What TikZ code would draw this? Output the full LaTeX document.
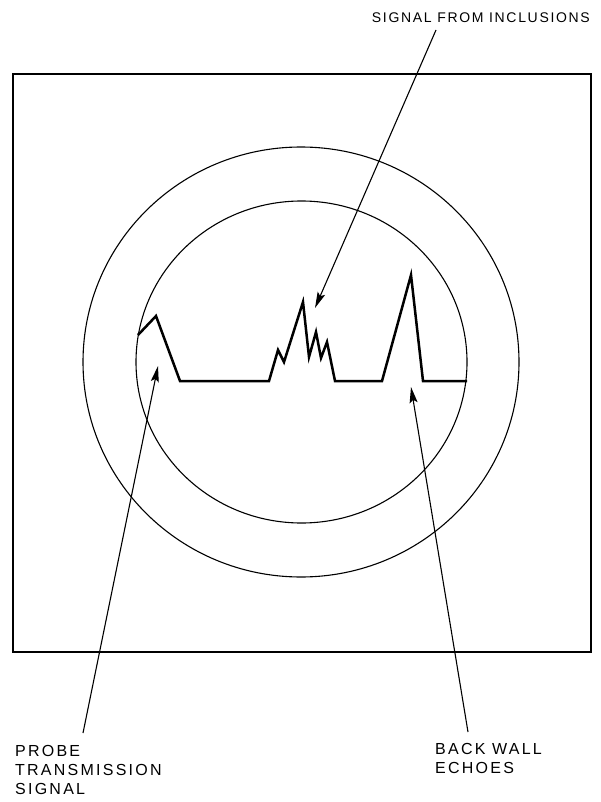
\documentclass[tikz,border=0pt]{standalone}
\usepackage{fontspec}
\setmainfont{Liberation Sans}
\usetikzlibrary{arrows.meta}
\begin{document}
\begin{tikzpicture}[x=1pt,y=-1pt,
  frame/.style={line width=1.8pt},
  ring/.style={line width=1.1pt},
  trace/.style={line width=2.5pt, line join=miter},
  pointer/.style={line width=1.1pt, -{Stealth[length=16pt,width=8pt,inset=3pt]}},
  lbl/.style={inner sep=0pt, align=left, font=\fontsize{16}{19}\selectfont\addfontfeature{LetterSpace=14}},
  toplbl/.style={inner sep=0pt, font=\fontsize{14}{16}\selectfont\addfontfeature{LetterSpace=12}}]
\useasboundingbox (0,0) rectangle (601,802);
\draw[frame] (13,74) rectangle (591,652);
\draw[ring] (301,362) ellipse [x radius=218, y radius=215];
\draw[ring] (301.5,362) ellipse [x radius=165.5, y radius=161];
\draw[trace] (138,335) -- (156,316) -- (180,381) -- (269,381) -- (278,350) -- (284,362)
  -- (303,302) -- (309,357) -- (316,332) -- (321,358) -- (327,342) -- (335,381)
  -- (382,381) -- (411,275) -- (423,381) -- (467,381);
\node[toplbl, anchor=north east] (incl) at (590,13) {SIGNAL FROM INCLUSIONS};
\node[lbl, anchor=north west] (probe) at (15,745) {PROBE\\TRANSMISSION\\SIGNAL};
\node[lbl, anchor=north west] (back) at (435,743) {BACK WALL\\ECHOES};
\coordinate (inclStart) at (436,30);
\coordinate (inclTip) at (315,308);
\coordinate (probeStart) at (83,733);
\coordinate (probeTip) at (158,366);
\coordinate (backStart) at (468,732);
\coordinate (backTip) at (411,387);
\draw[pointer] (inclStart) -- (inclTip);
\draw[pointer] (probeStart) -- (probeTip);
\draw[pointer] (backStart) -- (backTip);
\end{tikzpicture}
\end{document}
